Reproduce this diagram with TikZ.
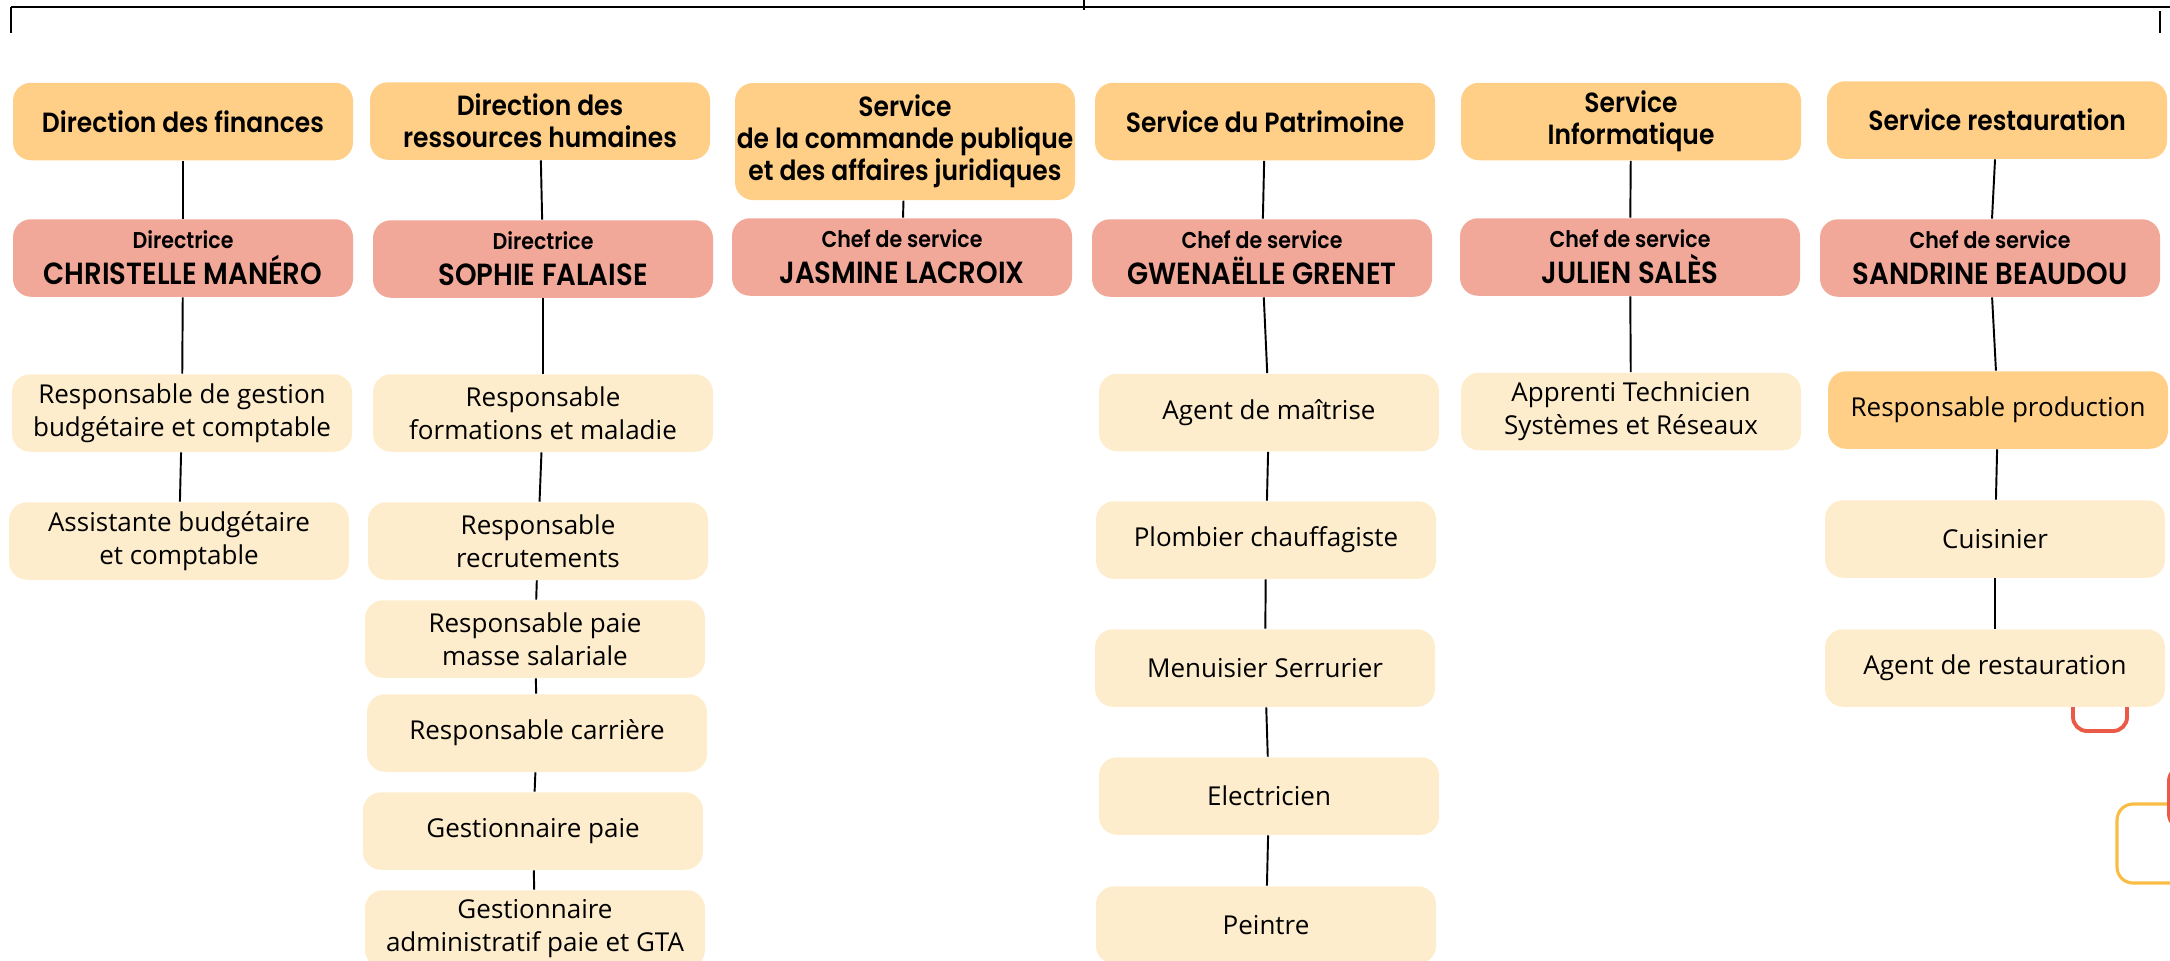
\documentclass[tikz,border=0pt]{standalone}
\usepackage{fontspec}
\setmainfont{Open Sans}
\newfontfamily\headfont{Poppins}[FakeStretch=0.9, BoldFont={Poppins SemiBold}]
\usepackage{xcolor}

\definecolor{headorange}{HTML}{FFCF87}
\definecolor{chiefpink}{HTML}{F1A899}
\definecolor{staffcream}{HTML}{FEEDCC}
\definecolor{decored}{HTML}{EB5A46}
\definecolor{decoyellow}{HTML}{F9BC45}

\newcommand{\chiefline}[2]{{\fontsize{6.5}{10.2}\selectfont #1}\\#2}

\begin{document}
\begin{tikzpicture}[x=0.1mm, y=-0.1mm,
    box/.style={rounded corners=1.8mm, minimum width=34mm, minimum height=7.75mm, align=center, inner sep=0pt},
    head/.style={box, fill=headorange, font=\headfont\bfseries\fontsize{7.9}{9.1}\selectfont},
    chief/.style={box, fill=chiefpink, font=\headfont\bfseries\fontsize{8.7}{10.2}\selectfont},
    staff/.style={box, fill=staffcream, font=\fontsize{7.4}{9.4}\selectfont},
    link/.style={line width=0.55pt}]
      \useasboundingbox (0,0) rectangle (2170,960);
      \clip (0,0) rectangle (2170,960);

      \coordinate (barL) at (11,7);
      \coordinate (barR) at (2172,7);
      \coordinate (tickL) at (11,33);
      \coordinate (midT) at (1084,0);
      \coordinate (midB) at (1084,10);
      \coordinate (tickRT) at (2160,11);
      \coordinate (tickRB) at (2160,33);
      \draw[line width=0.75pt] (barL) -- (barR);
      \draw[link] (barL) -- (tickL);
      \draw[link] (midT) -- (midB);
      \draw[link] (tickRT) -- (tickRB);

      \draw[decored, line width=1.1pt, rounded corners=1.4mm] (2073,660) rectangle (2127,731);
      \draw[decoyellow, line width=0.9pt, rounded corners=1.6mm] (2117,804) rectangle (2240,883);
      \fill[decored, rounded corners=1.6mm] (2167,765) rectangle (2240,830);

      \node[head] (fin) at (183,121.5) {Direction des finances};
      \node[chief] (finDir) at (183,258) {\chiefline{Directrice}{CHRISTELLE MANÉRO}};
      \node[staff] (finGest) at (182,413) {Responsable de gestion\\budgétaire et comptable};
      \node[staff] (finAsst) at (179,541) {Assistante budgétaire\\et comptable};

      \node[head] (rh) at (540,121) {Direction des\\ressources humaines};
      \node[chief] (rhDir) at (543,259) {\chiefline{Directrice}{SOPHIE FALAISE}};
      \node[staff] (rhForm) at (543,413) {Responsable\\formations et maladie};
      \node[staff] (rhRecr) at (538,541) {Responsable\\recrutements};
      \node[staff] (rhPaie) at (535,639) {Responsable paie\\masse salariale};
      \node[staff] (rhCarr) at (537,733) {Responsable carrière};
      \node[staff] (rhGest) at (533,831) {Gestionnaire paie};
      \node[staff] (rhAdm) at (535,929) {Gestionnaire\\administratif paie et GTA};

      \node[head, minimum height=11.7mm] (cp) at (905,141.5) {Service\\de la commande publique\\et des affaires juridiques};
      \node[chief] (cpChef) at (902,257) {\chiefline{Chef de service}{JASMINE LACROIX}};

      \node[head] (pat) at (1265,121.5) {Service du Patrimoine};
      \node[chief] (patChef) at (1262,258) {\chiefline{Chef de service}{GWENAËLLE GRENET}};
      \node[staff] (patMait) at (1269,412.5) {Agent de maîtrise};
      \node[staff] (patPlomb) at (1266,540) {Plombier chauffagiste};
      \node[staff] (patMenu) at (1265,668) {Menuisier Serrurier};
      \node[staff] (patElec) at (1269,796) {Electricien};
      \node[staff] (patPeint) at (1266,925) {Peintre};

      \node[head] (info) at (1631,121.5) {Service\\Informatique};
      \node[chief] (infoChef) at (1630,257) {\chiefline{Chef de service}{JULIEN SALÈS}};
      \node[staff] (infoAppr) at (1631,411.5) {Apprenti Technicien\\Systèmes et Réseaux};

      \node[head] (resto) at (1997,120) {Service restauration};
      \node[chief] (restoChef) at (1990,258) {\chiefline{Chef de service}{SANDRINE BEAUDOU}};
      \node[staff, fill=headorange] (restoProd) at (1998,410) {Responsable production};
      \node[staff] (restoCuis) at (1995,539) {Cuisinier};
      \node[staff] (restoAgent) at (1995,668) {Agent de restauration};

      \draw[link] (fin) -- (finDir); \draw[link] (finDir) -- (finGest); \draw[link] (finGest) -- (finAsst);
      \draw[link] (rh) -- (rhDir); \draw[link] (rhDir) -- (rhForm); \draw[link] (rhForm) -- (rhRecr);
      \draw[link] (rhRecr) -- (rhPaie); \draw[link] (rhPaie) -- (rhCarr); \draw[link] (rhCarr) -- (rhGest);
      \draw[link] (rhGest) -- (rhAdm);
      \draw[link] (cp) -- (cpChef);
      \draw[link] (pat) -- (patChef); \draw[link] (patChef) -- (patMait); \draw[link] (patMait) -- (patPlomb);
      \draw[link] (patPlomb) -- (patMenu); \draw[link] (patMenu) -- (patElec); \draw[link] (patElec) -- (patPeint);
      \draw[link] (info) -- (infoChef); \draw[link] (infoChef) -- (infoAppr);
      \draw[link] (resto) -- (restoChef); \draw[link] (restoChef) -- (restoProd); \draw[link] (restoProd) -- (restoCuis);
      \draw[link] (restoCuis) -- (restoAgent);

    \end{tikzpicture}
\end{document}
